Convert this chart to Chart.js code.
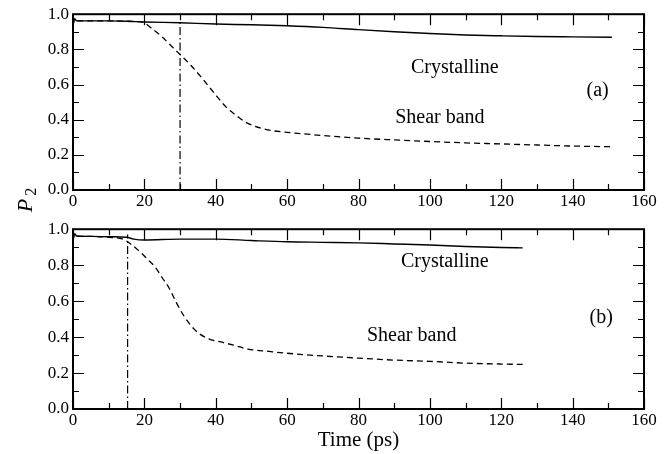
<!DOCTYPE html>
<html>
<head>
<meta charset="utf-8">
<script src="https://cdn.jsdelivr.net/npm/chart.js@4.4.1/dist/chart.umd.min.js"></script>
<style>
  html, body { margin: 0; padding: 0; background: #fff; }
  #wrap { position: relative; width: 669px; height: 454px; }
  canvas { position: absolute; left: 0; }
  #chartA { top: 0; }
  #chartB { top: 215px; }
  #ylab {
    position: absolute; left: 5px; top: 188px; width: 40px; height: 24px;
    transform: rotate(-90deg); transform-origin: center;
    font: italic 22px 'Liberation Serif', serif; text-align: center; line-height: 24px;
  }
  #ylab sub { font-style: normal; font-size: 16px; vertical-align: -4px; margin-left: 3px; }
</style>
</head>
<body>
<div id="wrap">
  <canvas id="chartA" width="669" height="215"></canvas>
  <canvas id="chartB" width="669" height="239"></canvas>
  <div id="ylab">P<sub>2</sub></div>
</div>
<script>
// ---- panel (a) ----
const timeCrystA = [0, 0.5, 1, 5, 10, 15, 20, 30, 40, 50, 60, 70, 80, 90, 100, 110, 120, 130, 140, 151];
const p2CrystA   = [0.94, 0.975, 0.962, 0.962, 0.962, 0.96, 0.956, 0.951, 0.944, 0.94, 0.934, 0.925, 0.912, 0.9, 0.89, 0.882, 0.877, 0.873, 0.871, 0.869];
const timeShearA = [0, 0.5, 1, 5, 10, 15, 18, 20, 22, 25, 28, 30, 33, 36, 40, 43, 46, 48, 50, 53, 56, 60, 70, 80, 90, 100, 110, 120, 130, 140, 151];
const p2ShearA   = [0.94, 0.975, 0.962, 0.962, 0.962, 0.96, 0.958, 0.95, 0.92, 0.87, 0.81, 0.77, 0.71, 0.64, 0.54, 0.47, 0.42, 0.39, 0.37, 0.35, 0.337, 0.328, 0.31, 0.295, 0.285, 0.276, 0.268, 0.262, 0.256, 0.25, 0.246];
const markerA = [30, 0, 0.95];   // time, from, to

// ---- panel (b) ----
const timeCrystB = [0, 0.5, 1, 5, 10, 15, 17, 20, 30, 40, 50, 60, 70, 80, 90, 100, 110, 120, 126];
const p2CrystB   = [0.94, 0.975, 0.962, 0.96, 0.958, 0.955, 0.945, 0.94, 0.945, 0.945, 0.937, 0.93, 0.927, 0.924, 0.918, 0.912, 0.904, 0.898, 0.896];
const timeShearB = [0, 0.5, 1, 5, 10, 14, 16, 19, 21, 23, 25, 27, 29, 31, 33, 35, 38, 42, 45, 49, 55, 60, 70, 80, 90, 100, 110, 120, 126];
const p2ShearB   = [0.94, 0.975, 0.962, 0.96, 0.955, 0.945, 0.92, 0.87, 0.83, 0.79, 0.73, 0.67, 0.59, 0.52, 0.465, 0.425, 0.39, 0.37, 0.355, 0.333, 0.32, 0.31, 0.295, 0.283, 0.272, 0.265, 0.255, 0.25, 0.248];
const markerB = [15.3, 0, 0.97];

const xMin = 0, xMax = 160, xStep = 20;
const yMin = 0, yMax = 1, yStep = 0.2;

Chart.defaults.font.family = "'Liberation Serif', serif";
Chart.defaults.font.size = 17;
Chart.defaults.color = '#000';

const pts = (xs, ys) => xs.map((x, i) => ({ x: x, y: ys[i] }));

// inward ticks on all four sides + frame
const frameTicks = {
  id: 'frameTicks',
  afterDraw(chart) {
    const { ctx, chartArea: a, scales: { x, y } } = chart;
    ctx.save();
    ctx.strokeStyle = '#000';
    ctx.lineWidth = 1.2;
    ctx.beginPath();
    for (let t = xMin; t <= xMax; t += xStep / 2) {
      const px = Math.round(x.getPixelForValue(t)) + 0.5;
      const len = t % xStep === 0 ? 11 : 6;
      ctx.moveTo(px, a.bottom); ctx.lineTo(px, a.bottom - len);
      ctx.moveTo(px, a.top); ctx.lineTo(px, a.top + len);
    }
    for (let i = 0; i <= 10; i++) {
      const py = Math.round(y.getPixelForValue(i / 10)) + 0.5;
      const len = i % 2 === 0 ? 11 : 6;
      ctx.moveTo(a.left, py); ctx.lineTo(a.left + len, py);
      ctx.moveTo(a.right, py); ctx.lineTo(a.right - len, py);
    }
    ctx.stroke();
    ctx.lineWidth = 2;
    ctx.strokeRect(a.left, a.top, a.width, a.height);
    ctx.restore();
  }
};

// text labels placed in data coordinates
const textLabels = {
  id: 'textLabels',
  afterDraw(chart, args, opts) {
    const { ctx, scales: { x, y } } = chart;
    ctx.save();
    ctx.font = "20px 'Liberation Serif', serif";
    ctx.fillStyle = '#000';
    ctx.textAlign = 'center';
    ctx.textBaseline = 'middle';
    (opts.items || []).forEach(it => {
      ctx.fillText(it.text, x.getPixelForValue(it.x), y.getPixelForValue(it.y));
    });
    ctx.restore();
  }
};

function makePanel(id, tc, pc, ts, ps, marker, labels, padTop, xAxisH, showTitle) {
  return new Chart(document.getElementById(id), {
    type: 'line',
    data: {
      datasets: [
        { data: pts(tc, pc), borderColor: '#000', borderWidth: 1.4, pointRadius: 0, cubicInterpolationMode: 'monotone' },
        { data: pts(ts, ps), borderColor: '#000', borderWidth: 1.3, borderDash: [6, 4], pointRadius: 0, cubicInterpolationMode: 'monotone' },
        { data: [{ x: marker[0], y: marker[1] }, { x: marker[0], y: marker[2] }], borderColor: '#000', borderWidth: 1.2, borderDash: [8, 3, 1.5, 3], pointRadius: 0 }
      ]
    },
    options: {
      responsive: false,
      animation: false,
      layout: { padding: { top: padTop, right: 25, left: 0, bottom: 0 } },
      plugins: {
        legend: { display: false },
        tooltip: { enabled: false },
        textLabels: { items: labels }
      },
      scales: {
        x: {
          type: 'linear', min: xMin, max: xMax,
          ticks: { stepSize: xStep, padding: 1, maxRotation: 0, font: { size: 17 } },
          grid: { display: false, drawTicks: false },
          border: { display: false },
          title: { display: showTitle, text: 'Time (ps)', font: { size: 21 }, padding: { top: 0, bottom: 1 } },
          afterFit(s) { s.height = xAxisH; }
        },
        y: {
          min: yMin, max: yMax,
          ticks: { stepSize: yStep, padding: 4, font: { size: 17 }, callback: v => v.toFixed(1) },
          grid: { display: false, drawTicks: false },
          border: { display: false },
          afterFit(s) { s.width = 73; }
        }
      }
    },
    plugins: [frameTicks, textLabels]
  });
}

makePanel('chartA', timeCrystA, p2CrystA, timeShearA, p2ShearA, markerA,
  [{ text: 'Crystalline', x: 107, y: 0.696 }, { text: '(a)', x: 147, y: 0.565 }, { text: 'Shear band', x: 102.8, y: 0.41 }],
  7, 25, false);

makePanel('chartB', timeCrystB, p2CrystB, timeShearB, p2ShearB, markerB,
  [{ text: 'Crystalline', x: 104.2, y: 0.819 }, { text: '(b)', x: 148, y: 0.507 }, { text: 'Shear band', x: 94.9, y: 0.407 }],
  12, 45, true);
</script>
</body>
</html>
